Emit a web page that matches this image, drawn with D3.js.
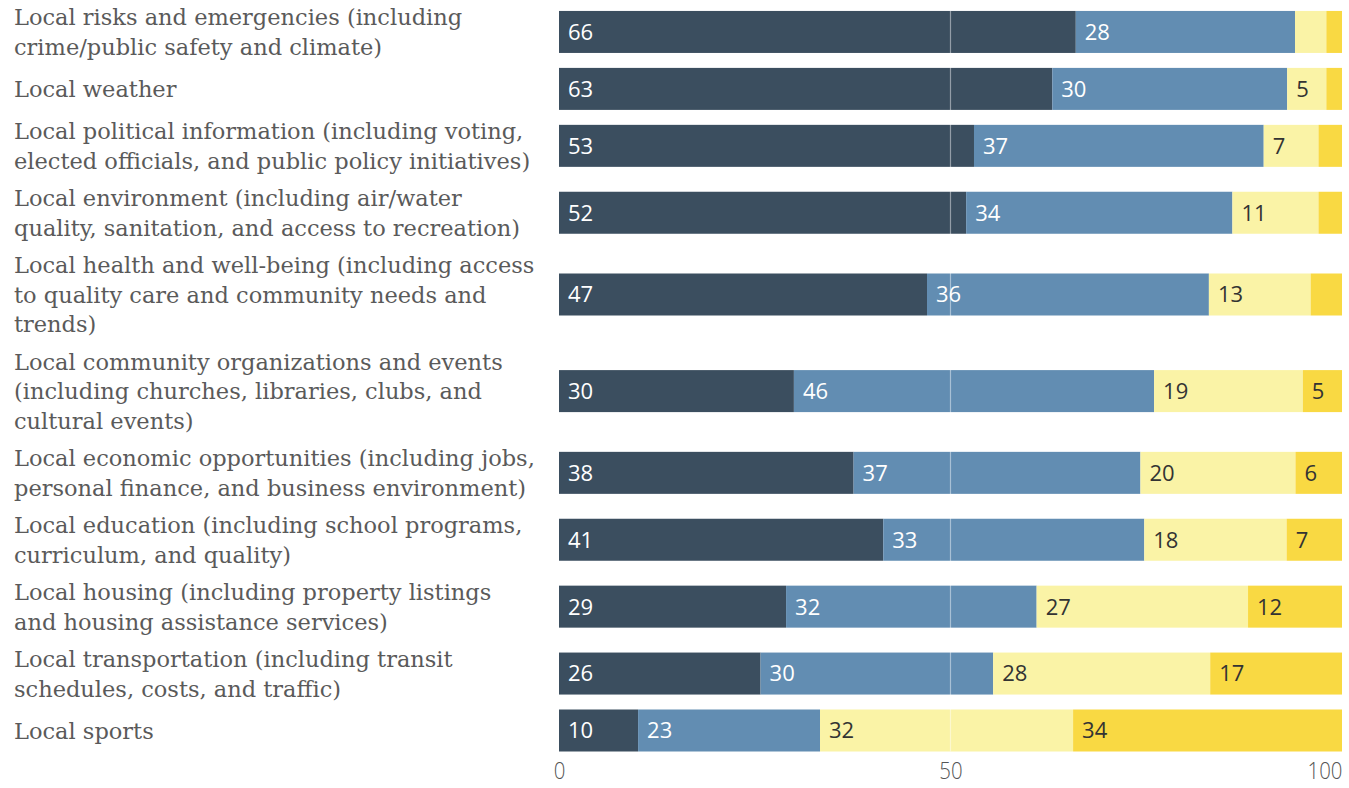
<!DOCTYPE html>
<html><head><meta charset="utf-8">
<script src="https://cdn.jsdelivr.net/npm/d3@7"></script>
<style>
html,body{margin:0;padding:0;background:#fff;}
svg{display:block;}
</style></head>
<body>
<svg id="chart" width="1349" height="788"></svg>
<script>
const categories = [
  "Local risks and emergencies (including\ncrime/public safety and climate)",
  "Local weather",
  "Local political information (including voting,\nelected officials, and public policy initiatives)",
  "Local environment (including air/water\nquality, sanitation, and access to recreation)",
  "Local health and well-being (including access\nto quality care and community needs and\ntrends)",
  "Local community organizations and events\n(including churches, libraries, clubs, and\ncultural events)",
  "Local economic opportunities (including jobs,\npersonal finance, and business environment)",
  "Local education (including school programs,\ncurriculum, and quality)",
  "Local housing (including property listings\nand housing assistance services)",
  "Local transportation (including transit\nschedules, costs, and traffic)",
  "Local sports"
];
const seriesKeys = ["s1","s2","s3","s4"];
const s1 = [66, 63, 53, 52, 47, 30, 38, 41, 29, 26, 10];
const s2 = [28, 30, 37, 34, 36, 46, 37, 33, 32, 30, 23];
const s3 = [4, 5, 7, 11, 13, 19, 20, 18, 27, 28, 32];
const s4 = [2, 2, 3, 3, 4, 5, 6, 7, 12, 17, 34];
const tickValues = [0, 50, 100];
const colors = ["#3b4e5f", "#628db2", "#faf3a6", "#f9d943"];
const textColors = ["#ffffff", "#ffffff", "#333333", "#333333"];

const data = categories.map((c, i) => ({cat: c, s1: s1[i], s2: s2[i], s3: s3[i], s4: s4[i]}));
const stacked = d3.stack().keys(seriesKeys).offset(d3.stackOffsetExpand)(data);

const svg = d3.select("#chart");
const x0 = 559, x1 = 1342;
const x = d3.scaleLinear().domain([0, 100]).range([x0, x1]);

const lineH = 29.7, barH = 42;
const rowH = n => Math.max(47, lineH * n + 7.5);
const lines = categories.map(c => c.split("\n"));
const centers = [];
let acc = -1.5;
lines.forEach(l => { const h = rowH(l.length); centers.push(acc + h / 2); acc += h; });
const y = d3.scaleOrdinal().domain(categories).range(centers);

// labels
const lab = svg.append("g").attr("class", "labels");
categories.forEach((c, i) => {
  const ls = lines[i];
  const t = lab.append("text")
    .attr("x", 14)
    .attr("font-family", "'DejaVu Serif',serif")
    .attr("font-size", 22.5)
    .attr("fill", "#5a5a5a");
  ls.forEach((l, j) => {
    t.append("tspan").attr("x", 14)
      .attr("y", y(c) + (j - (ls.length - 1) / 2) * lineH)
      .attr("dy", "0.36em").text(l);
  });
});

// bars
const g = svg.append("g");
stacked.forEach((layer, k) => {
  g.append("g").selectAll("rect").data(layer).join("rect")
    .attr("x", d => x(d[0] * 100))
    .attr("width", d => x(d[1] * 100) - x(d[0] * 100))
    .attr("y", d => y(d.data.cat) - barH / 2)
    .attr("height", barH)
    .attr("fill", colors[k]);
});

// gridline at 50
svg.append("g").selectAll("line").data([50]).join("line")
  .attr("x1", d => x(d)).attr("x2", d => x(d))
  .attr("y1", y(categories[0]) - barH / 2)
  .attr("y2", y(categories[categories.length - 1]) + barH / 2)
  .attr("stroke", "#ffffff").attr("stroke-opacity", 0.45).attr("stroke-width", 1.2);

// value labels
stacked.forEach((layer, k) => {
  g.append("g").selectAll("text").data(layer.filter(d => d.data[seriesKeys[k]] >= 5)).join("text")
    .attr("x", d => x(d[0] * 100) + 9)
    .attr("y", d => y(d.data.cat))
    .attr("dy", "0.36em")
    .attr("font-family", "'Open Sans',sans-serif")
    .attr("font-size", 22)
    .attr("fill", textColors[k])
    .text(d => d.data[seriesKeys[k]]);
});

// axis
const axis = d3.axisBottom(x).tickValues(tickValues).tickSize(0).tickPadding(0);
const ag = svg.append("g").attr("transform", "translate(0,762)").call(axis);
ag.select(".domain").remove();
ag.selectAll("text")
  .attr("font-family", "'Open Sans',sans-serif")
  .attr("font-weight", 300)
  .attr("font-size", 24)
  .attr("fill", "#555555")
  .attr("dy", "0.7em")
  .attr("text-anchor", d => d === 100 ? "end" : "middle")
  .attr("transform", "scale(0.85,1)");
</script>
</body></html>
